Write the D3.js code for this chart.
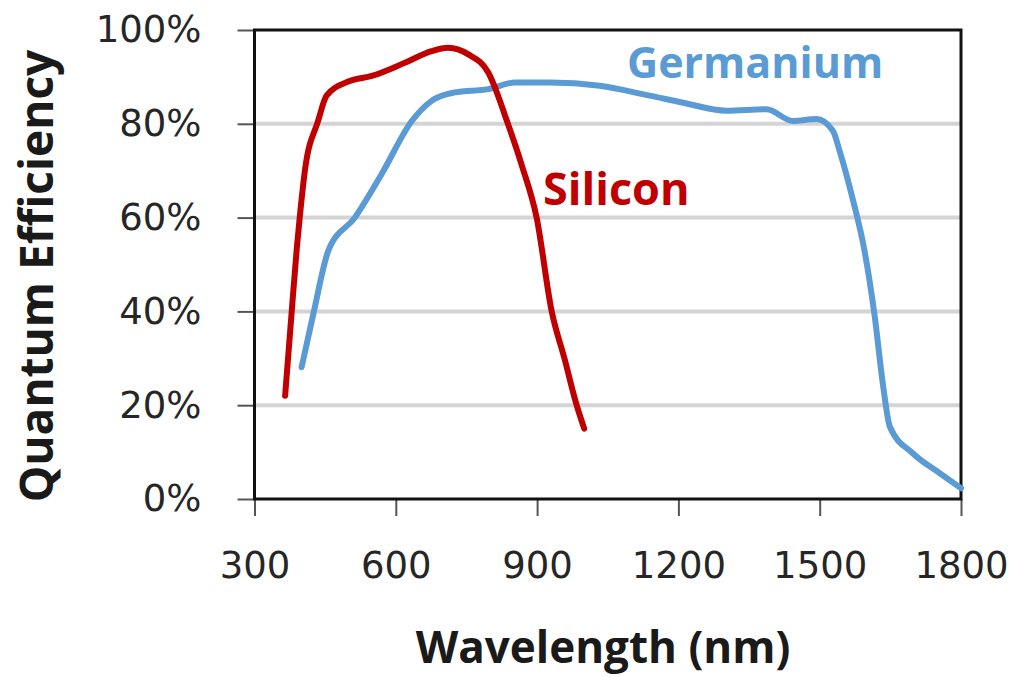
<!DOCTYPE html>
<html lang="en">
  <head>
    <meta charset="UTF-8" />
    <title>Quantum Efficiency</title>
    <script src="https://cdn.jsdelivr.net/npm/d3@7"></script>
    <style>
      body { margin: 0; background: #fff; }
      .tick text { font-family: "DejaVu Sans", sans-serif; font-size: 37px; fill: #262626; }
      .label { font-family: "Open Sans", sans-serif; font-weight: bold; }
    </style>
  </head>
  <body>
    <div id="chart"></div>
    <script>
      // wavelength (nm) and quantum efficiency (fraction)
      let siliconNm = [365, 379, 390, 396, 407, 435, 453, 499, 549, 619, 676, 711, 754, 796, 838, 868, 899, 931, 958, 984, 1000];
      let siliconQE = [0.22, 0.40, 0.537, 0.60, 0.70, 0.806, 0.86, 0.89, 0.902, 0.93, 0.955, 0.962, 0.948, 0.91, 0.80, 0.71, 0.60, 0.40, 0.30, 0.20, 0.15];

      let germaniumNm = [400, 425, 457, 513, 570, 634, 676, 725, 796, 853, 927, 1033, 1139, 1210, 1302, 1387, 1443, 1493, 1528, 1542, 1571, 1595, 1617, 1634, 1649, 1698, 1755, 1800];
      let germaniumQE = [0.281, 0.395, 0.53, 0.60, 0.693, 0.806, 0.849, 0.867, 0.874, 0.888, 0.888, 0.881, 0.86, 0.845, 0.828, 0.831, 0.806, 0.81, 0.785, 0.743, 0.636, 0.53, 0.388, 0.246, 0.154, 0.097, 0.055, 0.023];

      let xTicks = [300, 600, 900, 1200, 1500, 1800];
      let yTicks = [0, 0.2, 0.4, 0.6, 0.8, 1.0];

      let margin = { top: 30, right: 61, bottom: 178, left: 254.5 };
      let width = 1022 - margin.left - margin.right;
      let height = 677 - margin.top - margin.bottom;

      let svg = d3
        .select("#chart")
        .append("svg")
        .attr("width", 1022)
        .attr("height", 677)
        .style("display", "block");

      let g = svg
        .append("g")
        .attr("transform", `translate(${margin.left},${margin.top})`);

      let x = d3.scaleLinear().domain([300, 1800]).range([0, width]);
      let y = d3.scaleLinear().domain([0, 1]).range([height, 0]);

      // gridlines
      g.append("g")
        .selectAll("line")
        .data(yTicks.filter((d) => d > 0 && d < 1))
        .enter()
        .append("line")
        .attr("x1", 0)
        .attr("x2", width)
        .attr("y1", (d) => y(d))
        .attr("y2", (d) => y(d))
        .attr("stroke", "#d4d4d4")
        .attr("stroke-width", 4);

      // y axis
      let yAxis = g
        .append("g")
        .call(
          d3.axisLeft(y)
            .tickValues(yTicks)
            .tickSize(17)
            .tickPadding(36)
            .tickFormat(d3.format(".0%"))
        );
      yAxis.select(".domain").remove();
      yAxis.selectAll("line").attr("stroke", "#555").attr("stroke-width", 2);

      // x axis
      let xAxis = g
        .append("g")
        .attr("transform", `translate(0,${height})`)
        .call(
          d3.axisBottom(x)
            .tickValues(xTicks)
            .tickSize(17)
            .tickPadding(36)
            .tickFormat(d3.format("d"))
        );
      xAxis.select(".domain").remove();
      xAxis.selectAll("line").attr("stroke", "#555").attr("stroke-width", 2);

      // plot border
      g.append("rect")
        .attr("x", 0)
        .attr("y", 0)
        .attr("width", width)
        .attr("height", height)
        .attr("fill", "none")
        .attr("stroke", "#111")
        .attr("stroke-width", 3);

      let line = d3
        .line()
        .x((d) => x(d[0]))
        .y((d) => y(d[1]))
        .curve(d3.curveMonotoneX);

      let germanium = d3.zip(germaniumNm, germaniumQE);
      let silicon = d3.zip(siliconNm, siliconQE);

      g.append("path")
        .datum(germanium)
        .attr("d", line)
        .attr("fill", "none")
        .attr("stroke", "#5b9bd5")
        .attr("stroke-width", 6)
        .attr("stroke-linecap", "round");

      g.append("path")
        .datum(silicon)
        .attr("d", line)
        .attr("fill", "none")
        .attr("stroke", "#c00000")
        .attr("stroke-width", 6)
        .attr("stroke-linecap", "round");

      // series labels
      svg.append("text")
        .attr("class", "label")
        .attr("x", 627)
        .attr("y", 78)
        .attr("font-size", 43)
        .attr("fill", "#5b9bd5")
        .text("Germanium");

      svg.append("text")
        .attr("class", "label")
        .attr("x", 543)
        .attr("y", 205)
        .attr("font-size", 45)
        .attr("fill", "#c00000")
        .text("Silicon");

      // axis titles
      svg.append("text")
        .attr("class", "label")
        .attr("x", 603)
        .attr("y", 663)
        .attr("text-anchor", "middle")
        .attr("font-size", 44)
        .attr("fill", "#1a1a1a")
        .text("Wavelength (nm)");

      svg.append("text")
        .attr("class", "label")
        .attr("transform", "translate(53,276) rotate(-90)")
        .attr("text-anchor", "middle")
        .attr("font-size", 46)
        .attr("fill", "#1a1a1a")
        .text("Quantum Efficiency");
    </script>
  </body>
</html>
